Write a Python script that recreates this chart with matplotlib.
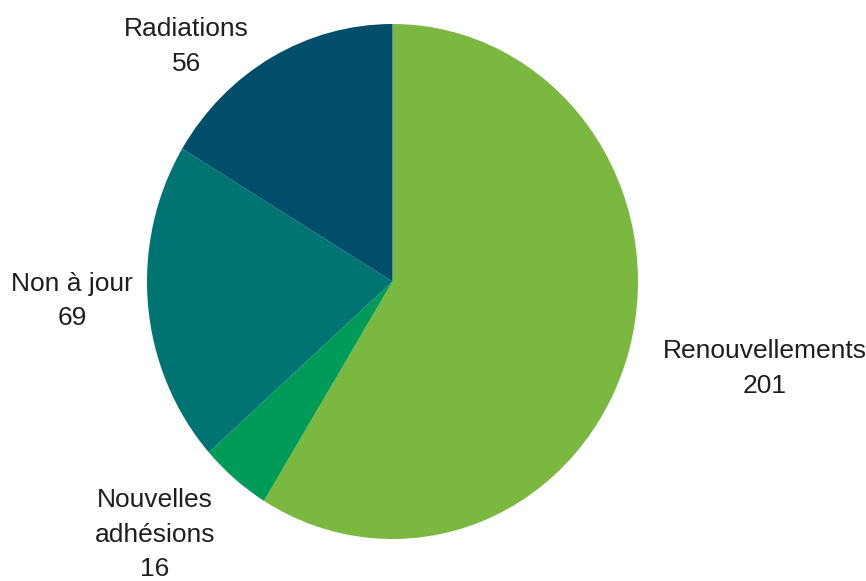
import numpy as np
import matplotlib
matplotlib.use('Agg')
import matplotlib.pyplot as plt

# Member counts by category (clockwise from the top)
categories = ['Renouvellements', 'Nouvelles\nadhésions', 'Non à jour', 'Radiations']
counts = [201, 16, 69, 56]
colors = ['#7ab83f', '#009b58', '#007472', '#004e6a']

# label nudges in pixels from the wedge edge (style only)
label_offsets = [(136, -17), (-80, -56), (-76, 4), (-85, 11)]

plt.rcParams['font.family'] = ['Liberation Sans', 'DejaVu Sans']

fig = plt.figure(figsize=(8.66, 5.81), dpi=100)
ax = fig.add_axes([0, 0, 1, 1])

wedges, _ = ax.pie(counts, colors=colors, startangle=90, counterclock=False,
                   wedgeprops=dict(linewidth=0))

for w, cat, n, off in zip(wedges, categories, counts, label_offsets):
    mid = np.deg2rad((w.theta1 + w.theta2) / 2)
    ax.annotate(f'{cat}\n{n}', xy=(np.cos(mid), np.sin(mid)),
                xytext=off, textcoords='offset pixels',
                ha='center', va='center', fontsize=19,
                color='#1f1f1f', linespacing=1.55, annotation_clip=False)

# pie is slightly stretched vertically in the reference
ax.set_aspect('auto')
ax.set_xlim(-392.5 / 245.5, (866 - 392.5) / 245.5)
ax.set_ylim(-299.5 / 257.5, 281.5 / 257.5)
ax.axis('off')

fig.savefig('out.png', dpi=100)
